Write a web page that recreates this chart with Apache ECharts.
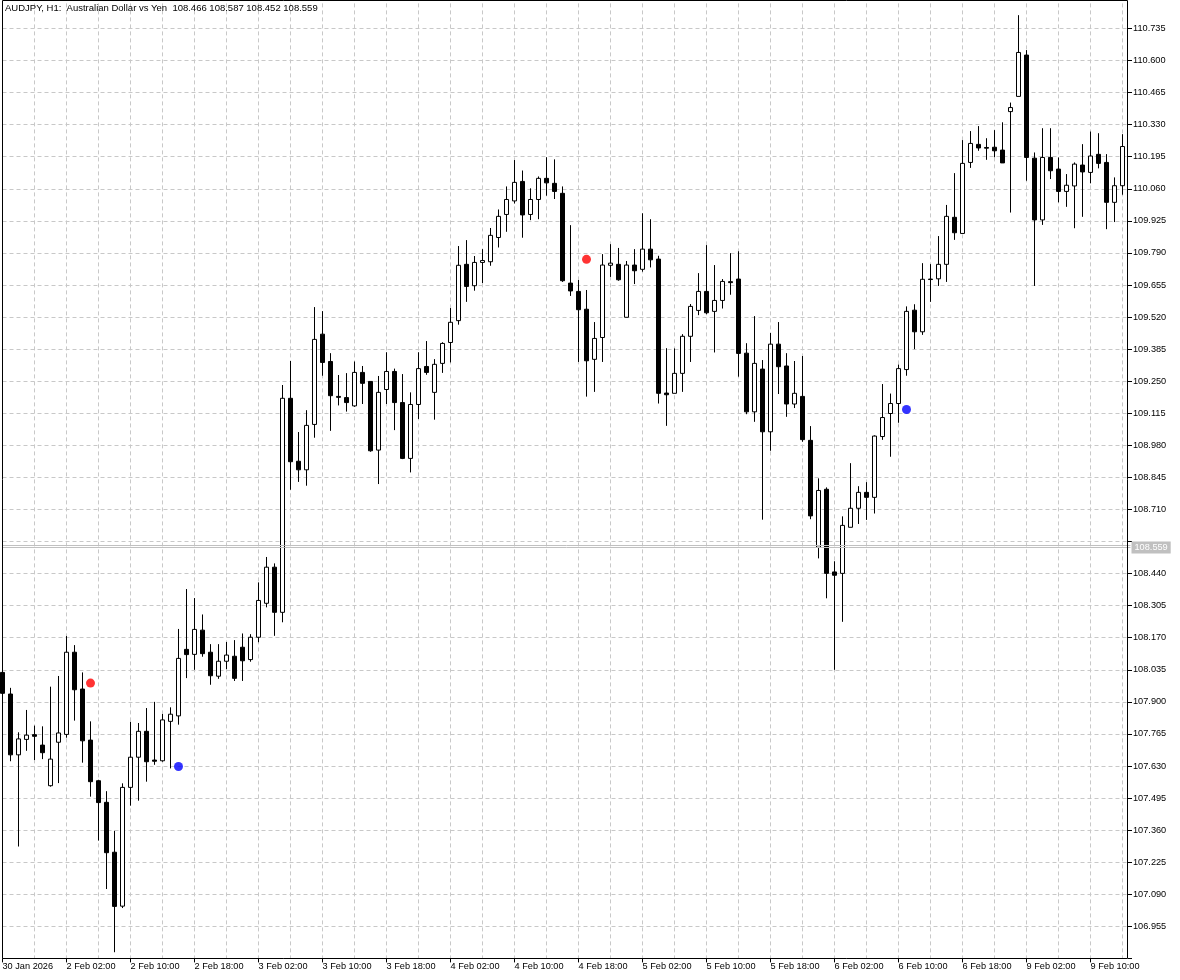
<!DOCTYPE html>
<html><head><meta charset="utf-8">
<script src="https://cdn.jsdelivr.net/npm/echarts@6/dist/echarts.min.js"></script>
<style>html,body{margin:0;padding:0;background:#fff}#chart{width:1180px;height:980px}</style>
</head><body><div id="chart"></div>
<script>
const chartTitle = 'AUDJPY, H1:  Australian Dollar vs Yen  108.466 108.587 108.452 108.559';
const currentPrice = 108.559;
const hiddenTick = 108.575; // covered by the price tag
const firstLabel = '30 Jan 2026';
// trading sessions: [day, first hour, last hour]
const sessions = [['30 Jan',18,23],['2 Feb',0,23],['3 Feb',0,23],['4 Feb',0,23],['5 Feb',0,23],['6 Feb',0,23],['9 Feb',0,14]];
const yMin = 106.82, yMax = 110.87, yStep = 0.135;

const opens = [
108.024,107.933,107.677,107.742,107.762,107.718,107.547,107.730,107.763,108.109,
107.954,107.739,107.568,107.477,107.267,107.040,107.540,107.667,107.776,107.655,
107.652,107.818,107.841,108.121,108.100,108.202,108.109,108.008,108.071,108.092,
108.130,108.078,108.172,108.315,108.467,108.277,109.178,108.913,108.877,109.068,
109.448,109.333,109.186,109.181,109.146,109.287,109.249,108.960,109.215,109.291,
109.160,108.925,109.152,109.312,109.203,109.325,109.413,109.505,109.742,109.652,
109.750,109.753,109.855,109.952,110.009,110.091,109.952,110.015,110.104,110.083,
110.041,109.663,109.628,109.553,109.342,109.434,109.738,109.742,109.519,109.739,
109.721,109.806,109.764,109.200,109.199,109.283,109.439,109.548,109.628,109.544,
109.590,109.669,109.680,109.368,109.121,109.301,109.037,109.406,109.314,109.154,
109.186,109.001,108.551,108.795,108.447,108.441,108.635,108.715,108.782,108.761,
109.017,109.114,109.156,109.299,109.549,109.458,109.680,109.681,109.742,109.940,
109.872,110.171,110.247,110.234,110.235,110.223,110.385,110.449,110.623,110.189,
109.929,110.192,110.143,110.049,110.072,110.160,110.129,110.205,110.171,110.003,
110.073];
const closes = [
107.936,107.677,107.744,107.760,107.755,107.686,107.659,107.769,108.109,107.951,
107.736,107.564,107.476,107.265,107.039,107.540,107.667,107.776,107.648,107.650,
107.824,107.848,108.083,108.099,108.205,108.103,108.010,108.071,108.097,107.999,
108.073,108.172,108.327,108.467,108.277,109.178,108.911,108.877,109.064,109.426,
109.329,109.189,109.182,109.160,109.287,109.241,108.957,109.203,109.291,109.160,
108.925,109.152,109.303,109.287,109.321,109.409,109.498,109.738,109.649,109.750,
109.758,109.864,109.944,110.015,110.087,109.950,110.015,110.104,110.085,110.049,
109.673,109.630,109.551,109.336,109.430,109.739,109.747,109.677,109.739,109.715,
109.806,109.761,109.199,109.193,109.283,109.439,109.565,109.628,109.538,109.590,
109.670,109.665,109.367,109.121,109.325,109.037,109.406,109.311,109.154,109.199,
109.004,108.683,108.790,108.441,108.433,108.643,108.715,108.782,108.761,109.019,
109.097,109.156,109.303,109.544,109.458,109.679,109.678,109.742,109.944,109.875,
110.167,110.251,110.232,110.231,110.220,110.169,110.402,110.634,110.192,109.929,
110.192,110.136,110.049,110.075,110.164,110.131,110.198,110.167,110.003,110.073,
110.238];
const lows = [
107.912,107.650,107.291,107.694,107.655,107.659,107.543,107.558,107.749,107.821,
107.644,107.501,107.316,107.112,106.846,107.032,107.463,107.484,107.564,107.635,
107.648,107.620,107.804,108.000,108.035,108.090,107.972,107.997,108.038,107.988,
107.988,108.069,108.151,108.298,108.178,108.235,108.793,108.826,108.810,109.012,
109.273,109.041,109.148,109.122,109.142,109.154,108.953,108.817,109.154,109.044,
108.922,108.866,109.091,109.277,109.088,109.285,109.329,109.488,109.584,109.631,
109.663,109.736,109.813,109.879,109.998,109.854,109.928,109.932,110.031,110.017,
109.668,109.609,109.331,109.185,109.205,109.331,109.689,109.673,109.519,109.659,
109.711,109.729,109.156,109.062,109.199,109.205,109.331,109.528,109.532,109.371,
109.556,109.614,109.269,109.111,109.079,108.667,108.957,109.196,109.100,109.137,
108.995,108.669,108.504,108.336,108.035,108.237,108.635,108.649,108.666,108.693,
109.003,108.932,109.075,109.273,109.385,109.445,109.584,109.651,109.668,109.845,
109.872,110.148,110.220,110.182,110.193,110.169,109.960,110.449,110.094,109.651,
109.908,110.101,110.003,109.984,109.894,109.942,110.083,110.146,109.890,109.920,
110.035];
const highs = [
108.047,107.959,107.772,107.866,107.800,107.797,107.964,108.009,108.177,108.139,
108.024,107.818,107.572,107.524,107.357,107.557,107.816,107.811,107.874,107.900,
107.849,107.877,108.207,108.375,108.337,108.268,108.143,108.143,108.152,108.160,
108.188,108.185,108.403,108.510,108.483,109.234,109.335,109.036,109.128,109.562,
109.545,109.368,109.276,109.284,109.333,109.314,109.249,109.272,109.372,109.303,
109.280,109.203,109.372,109.419,109.343,109.414,109.558,109.819,109.844,109.777,
109.806,109.895,109.973,110.070,110.181,110.137,110.062,110.112,110.193,110.184,
110.070,109.907,109.676,109.634,109.499,109.785,109.827,109.811,109.756,109.806,
109.957,109.932,109.778,109.389,109.388,109.448,109.575,109.705,109.823,109.739,
109.680,109.789,109.797,109.410,109.524,109.339,109.453,109.499,109.368,109.335,
109.356,109.061,108.841,108.803,108.492,108.681,108.905,108.808,108.825,109.022,
109.238,109.198,109.320,109.565,109.574,109.747,109.743,109.861,109.992,110.126,
110.265,110.303,110.324,110.273,110.307,110.340,110.423,110.791,110.644,110.213,
110.315,110.315,110.192,110.122,110.171,110.248,110.301,110.294,110.206,110.108,
110.290];

// signal dots (bar index, price)
const redIdx = [11, 73];
const redVal = [107.979, 109.763];
const blueIdx = [22, 113];
const blueVal = [107.628, 109.131];

const categories = [];
sessions.forEach(([d, h0, h1]) => {
  for (let h = h0; h <= h1; h++) categories.push(d + ' ' + String(h).padStart(2, '0') + ':00');
});
const nBars = categories.length;
const axisCats = categories.concat(['']);
const candleData = opens.map((o, i) => [o, closes[i], lows[i], highs[i]]);

const FONT = 'Liberation Sans';
const chart = echarts.init(document.getElementById('chart'), null, {renderer: 'canvas'});
chart.setOption({
  animation: false,
  backgroundColor: '#ffffff',
  grid: {left: 2.5, top: -3.6, width: 1128, height: 962, containLabel: false, outerBoundsMode: 'none'},
  xAxis: {
    type: 'category', data: axisCats, boundaryGap: false,
    axisLine: {show: false},
    axisTick: {show: true, length: 4, interval: (i) => i % 8 === 0 && i < nBars, lineStyle: {color: '#000'}},
    axisLabel: {
      interval: (i) => i % 8 === 0 && i < nBars, align: 'left', alignMinLabel: 'left', margin: 4,
      fontSize: 9.2, fontFamily: FONT, color: '#000',
      formatter: (v, i) => i === 0 ? firstLabel : v
    },
    splitLine: {show: true, interval: (i) => i % 4 === 0 && i > 0 && i < nBars, lineStyle: {color: '#c8c8c8', type: [4, 3], width: 1}}
  },
  yAxis: {
    type: 'value', position: 'right', offset: -2.5, min: yMin, max: yMax, interval: yStep, scale: true,
    axisLine: {show: false},
    axisTick: {show: true, length: 4, lineStyle: {color: '#000'}},
    axisLabel: {
      margin: 5, color: '#000', fontFamily: FONT, fontSize: 9.2,
      formatter: (v) => (v > yMin + 1e-6 && v < yMax - 1e-6 && Math.abs(v - hiddenTick) > 1e-6) ? v.toFixed(3) : ''
    },
    splitLine: {show: true, lineStyle: {color: '#c8c8c8', type: [4, 3], width: 1}}
  },
  series: [
    {
      type: 'candlestick', data: candleData, barWidth: 5,
      itemStyle: {color: '#ffffff', color0: '#000000', borderColor: '#000000', borderColor0: '#000000', borderWidth: 1},
      markLine: {
        silent: true, symbol: ['none', 'none'], animation: false,
        lineStyle: {color: '#c0c0c0', width: 1, type: 'solid'},
        data: [
          {yAxis: currentPrice + 0.006, label: {show: false}},
          {yAxis: currentPrice - 0.004,
           label: {show: true, position: 'end', distance: 1, formatter: currentPrice.toFixed(3),
                   color: '#ffffff', backgroundColor: '#c0c0c0', padding: [2, 3, 1, 3],
                   fontSize: 9.2, fontFamily: FONT}}
        ]
      }
    },
    {type: 'scatter', data: redIdx.map((k, i) => [k, redVal[i]]), symbolSize: 9, itemStyle: {color: '#ff0000'}, z: 5},
    {type: 'scatter', data: blueIdx.map((k, i) => [k, blueVal[i]]), symbolSize: 9, itemStyle: {color: '#0000ff'}, z: 5}
  ],
  graphic: [
    {type: 'rect', silent: true, z: 100, shape: {x: 2.5, y: 0.5, width: 1125, height: 958}, style: {fill: 'none', stroke: '#000', lineWidth: 1}},
    {type: 'text', silent: true, z: 101, x: 5, y: 3, style: {text: chartTitle, font: '9.5px "Liberation Sans"', fill: '#000'}}
  ]
});
</script></body></html>
